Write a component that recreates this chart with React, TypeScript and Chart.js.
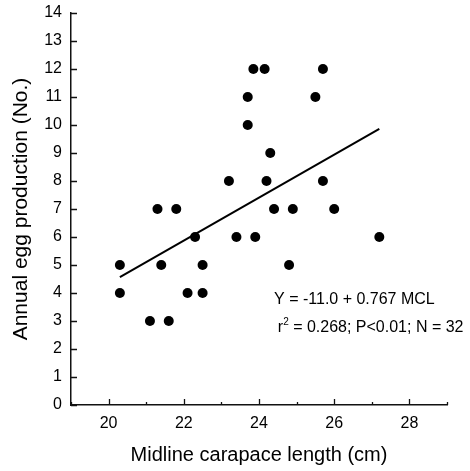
import React, { useEffect, useRef } from "react";
import { Chart, registerables } from "chart.js";

Chart.register(...registerables);

// Observed points (midline carapace length, annual egg production)
const carapaceLength = [
  23.85, 24.15, 25.7, 23.7, 25.5, 23.7, 24.3, 23.2, 24.2, 25.7,
  21.3, 21.8, 24.4, 24.9, 26.0, 22.3, 23.4, 23.9, 27.2,
  20.3, 21.4, 22.5, 24.8, 20.3, 22.1, 22.5, 21.1, 21.6,
];
const eggProduction = [
  12, 12, 12, 11, 11, 10, 9, 8, 8, 8,
  7, 7, 7, 7, 7, 6, 6, 6, 6,
  5, 5, 5, 5, 4, 4, 4, 3, 3,
];

// Regression line end points
const fitX = [20.3, 27.2];
const fitY = [4.57, 9.86];

const equationText = "Y = -11.0 + 0.767 MCL";
const statsPrefix = "r";
const statsSup = "2";
const statsRest = " = 0.268; P<0.01; N = 32";
const annotX = [24.4, 24.5];
const annotY = [3.75, 2.75];

const xTitle = "Midline carapace length (cm)";
const yTitle = "Annual egg production (No.)";

const FONT = "'Liberation Sans', Arial, Helvetica, sans-serif";

const tickPlugin = {
  id: "inwardTicks",
  afterDraw(chart: any) {
    const { ctx, chartArea, scales } = chart;
    const xs = scales.x;
    const ys = scales.y;
    ctx.save();
    ctx.strokeStyle = "#111";
    ctx.lineWidth = 1.3;
    ctx.beginPath();
    for (let v = 19; v <= 29; v++) {
      const px = Math.round(xs.getPixelForValue(v)) + 0.5;
      const len = v % 2 === 0 ? 6 : 3;
      ctx.moveTo(px, chartArea.bottom);
      ctx.lineTo(px, chartArea.bottom - len);
    }
    for (let v = 0; v <= 14; v++) {
      const py = Math.round(ys.getPixelForValue(v)) + 0.5;
      ctx.moveTo(chartArea.left, py);
      ctx.lineTo(chartArea.left + 6, py);
    }
    ctx.stroke();

    // annotations
    ctx.fillStyle = "#000";
    ctx.textBaseline = "middle";
    ctx.textAlign = "left";
    ctx.font = `16px ${FONT}`;
    const x1 = xs.getPixelForValue(annotX[0]);
    const y1 = ys.getPixelForValue(annotY[0]);
    ctx.fillText(equationText, x1, y1);
    const x2 = xs.getPixelForValue(annotX[1]);
    const y2 = ys.getPixelForValue(annotY[1]);
    ctx.fillText(statsPrefix, x2, y2);
    let cx = x2 + ctx.measureText(statsPrefix).width;
    ctx.font = `10px ${FONT}`;
    ctx.fillText(statsSup, cx, y2 - 6);
    cx += ctx.measureText(statsSup).width;
    ctx.font = `16px ${FONT}`;
    ctx.fillText(statsRest, cx, y2);
    ctx.restore();
  },
};

export default function App() {
  const ref = useRef<HTMLCanvasElement | null>(null);

  useEffect(() => {
    if (!ref.current) return;
    const points = carapaceLength.map((x, i) => ({ x, y: eggProduction[i] }));
    const line = fitX.map((x, i) => ({ x, y: fitY[i] }));
    const chart = new Chart(ref.current, {
      type: "scatter",
      data: {
        datasets: [
          {
            data: points,
            pointRadius: 5,
            pointHoverRadius: 5,
            pointBackgroundColor: "#000",
            pointBorderWidth: 0,
            showLine: false,
          },
          {
            data: line,
            showLine: true,
            borderColor: "#000",
            borderWidth: 2,
            pointRadius: 0,
            fill: false,
          },
        ],
      },
      options: {
        animation: false,
        responsive: true,
        maintainAspectRatio: false,
        layout: { padding: { left: 0, top: 13, right: 23, bottom: 4 } },
        plugins: {
          legend: { display: false },
          tooltip: { enabled: false },
        },
        scales: {
          x: {
            type: "linear",
            min: 19,
            max: 29,
            afterFit: (s: any) => {
              s.height = 62;
              s.paddingLeft = 0;
              s.paddingRight = 0;
            },
            ticks: {
              stepSize: 1,
              color: "#000",
              padding: 9,
              font: { family: FONT, size: 16 },
              callback: (v: any) => (Number(v) % 2 === 0 ? String(v) : ""),
              maxRotation: 0,
              autoSkip: false,
            },
            grid: { display: false, drawTicks: false },
            border: { display: true, color: "#111", width: 1.5 },
            title: {
              display: true,
              text: xTitle,
              color: "#000",
              font: { family: FONT, size: 20 },
              padding: { top: 0, bottom: 0 },
            },
          },
          y: {
            type: "linear",
            min: 0,
            max: 14,
            afterFit: (s: any) => {
              s.width = 71;
              s.paddingTop = 0;
              s.paddingBottom = 0;
            },
            ticks: {
              stepSize: 1,
              color: "#000",
              padding: 9,
              font: { family: FONT, size: 16 },
              autoSkip: false,
            },
            grid: { display: false, drawTicks: false },
            border: { display: true, color: "#111", width: 1.5 },
            title: {
              display: true,
              text: yTitle,
              color: "#000",
              font: { family: FONT, size: 21 },
              padding: { top: 9, bottom: 0 },
            },
          },
        },
      },
      plugins: [tickPlugin],
    });
    return () => chart.destroy();
  }, []);

  return (
    <div style={{ position: "absolute", left: 0, top: 0, width: 470, height: 471, background: "#fff" }}>
      <canvas ref={ref} />
    </div>
  );
}
